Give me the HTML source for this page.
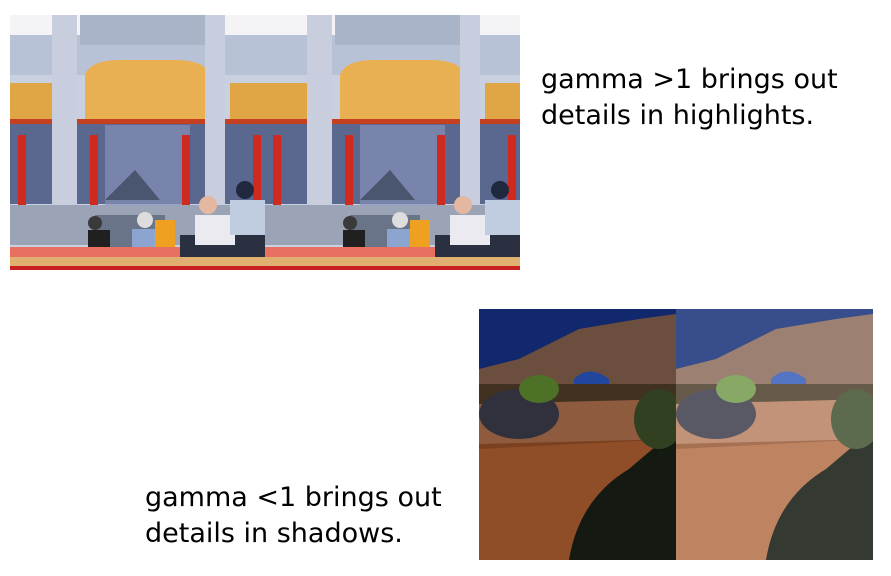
<!DOCTYPE html>
<html><head><meta charset="utf-8"><style>
body{margin:0;width:891px;height:576px;background:#fff;overflow:hidden;position:relative;font-family:"DejaVu Sans","Liberation Sans",sans-serif}
.t{position:absolute;font-size:27px;color:#000;line-height:36px;white-space:nowrap}
svg{position:absolute}
</style></head><body>
<svg style="left:10px;top:15px" width="510" height="255" viewBox="0 0 510 255">
<defs>
<g id="temple">
<rect width="255" height="255" fill="#c9d0e0"/>
<rect x="0" y="0" width="255" height="20" fill="#f4f4f6"/>
<rect x="0" y="20" width="255" height="40" fill="#b8c2d6"/>
<rect x="70" y="0" width="130" height="30" fill="#aab4c8"/>
<path d="M75 60 Q80 45 110 45 L165 45 Q195 45 200 60 L200 105 L75 105Z" fill="#e8b050"/>
<rect x="0" y="68" width="55" height="38" fill="#e0a544"/>
<rect x="220" y="68" width="35" height="38" fill="#e0a544"/>
<rect x="0" y="104" width="255" height="5" fill="#c44020"/>
<rect x="0" y="109" width="255" height="80" fill="#5a6890"/>
<rect x="95" y="110" width="85" height="80" fill="#8490b8" opacity=".7"/>
<rect x="8" y="120" width="8" height="75" fill="#d02a20"/>
<rect x="80" y="120" width="8" height="75" fill="#d02a20"/>
<rect x="172" y="120" width="8" height="75" fill="#d02a20"/>
<rect x="243" y="120" width="8" height="75" fill="#d02a20"/>
<rect x="42" y="0" width="25" height="200" fill="#c8cede"/>
<rect x="195" y="0" width="20" height="200" fill="#c8cede"/>
<rect x="0" y="190" width="255" height="40" fill="#9aa4b6"/>
<path d="M95 185 L125 155 L150 185Z" fill="#4a5670"/>
<rect x="85" y="200" width="70" height="40" fill="#6a7488"/>
<rect x="170" y="220" width="85" height="22" fill="#2a3040"/>
<circle cx="85" cy="208" r="7" fill="#3a3a3a"/><rect x="78" y="215" width="22" height="25" fill="#202020"/>
<circle cx="135" cy="205" r="8" fill="#ddd"/><rect x="122" y="214" width="30" height="28" fill="#8ca4d0"/>
<circle cx="198" cy="190" r="9" fill="#e4b8a0"/><rect x="185" y="200" width="40" height="30" fill="#eaeaf0"/>
<circle cx="235" cy="175" r="9" fill="#202840"/><rect x="220" y="185" width="35" height="35" fill="#c0cce0"/>
<rect x="145" y="205" width="20" height="35" fill="#f0a020"/>
<rect x="0" y="232" width="170" height="10" fill="#e87060"/>
<rect x="0" y="242" width="255" height="13" fill="#e0b070"/>
<rect x="0" y="251" width="255" height="4" fill="#c82020"/>
</g>
</defs>
<use href="#temple" x="0"/>
<use href="#temple" x="255"/>
</svg>
<div class="t" style="left:541px;top:62px">gamma &gt;1 brings out<br>details in highlights.</div>
<svg style="left:479px;top:309px" width="394" height="251" viewBox="0 0 394 251">
<defs>
<g id="canyon">
<rect width="197" height="251" fill="#9a5a38"/>
<rect width="197" height="60" fill="#27408a"/>
<path d="M0 60 L40 50 L100 20 L160 10 L197 5 L197 90 L0 95Z" fill="#8a6a58"/>
<path d="M95 70 Q110 55 130 70 L130 80 L95 80Z" fill="#3a60c0"/>
<rect x="0" y="75" width="197" height="20" fill="#5a4a38"/>
<path d="M0 95 L197 90 L197 130 L0 135Z" fill="#b07858"/>
<ellipse cx="40" cy="105" rx="40" ry="25" fill="#4a4a58"/>
<ellipse cx="60" cy="80" rx="20" ry="14" fill="#6a9040"/>
<path d="M0 140 L197 130 L197 251 L0 251Z" fill="#b06a40"/>
<path d="M90 251 Q100 190 150 160 L197 120 L197 251Z" fill="#2a3028"/>
<ellipse cx="180" cy="110" rx="25" ry="30" fill="#4a5a38"/>
</g>
</defs>
<use href="#canyon" x="0" style="filter:brightness(.8) contrast(1.15)"/>
<use href="#canyon" x="197" style="filter:brightness(1.2) saturate(.7)"/>
</svg>
<div class="t" style="left:145px;top:480px">gamma &lt;1 brings out<br>details in shadows.</div>
</body></html>
